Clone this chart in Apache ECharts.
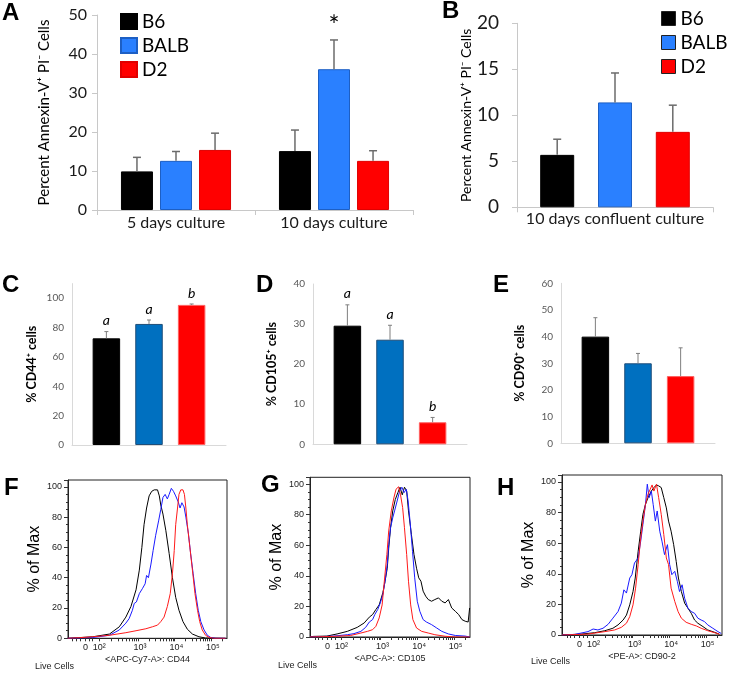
<!DOCTYPE html>
<html><head><meta charset="utf-8">
<script src="https://cdn.jsdelivr.net/npm/echarts@6/dist/echarts.min.js"></script>
<style>html,body{margin:0;padding:0;background:#fff}#c{width:729px;height:673px}</style>
</head><body><div id="c"></div>
<script>
// ---------- DATA ----------
const strains = ['B6', 'BALB', 'D2'];

// Panel A: apoptosis, two culture durations
const aCategories = ['5 days culture', '10 days culture'];
const aB6 = [9.9, 15.1];
const aB6Err = [3.6, 5.4];
const aBALB = [12.6, 36.1];
const aBALBErr = [2.4, 7.5];
const aD2 = [15.4, 12.6];
const aD2Err = [4.3, 2.6];
const aSigB6 = ['', ''];
const aSigBALB = ['', '*'];
const aSigD2 = ['', ''];

// Panel B: 10 days confluent culture
const bCategories = ['10 days confluent culture'];
const bMean = [5.7, 11.4, 8.2];
const bErr = [1.7, 3.2, 2.9];

// Panel C: % CD44+ cells
const cMean = [72.7, 82.5, 95.5];
const cErr = [4.6, 2.7, 0.6];
const cSig = ['a', 'a', 'b'];

// Panel D: % CD105+ cells
const dMean = [29.6, 26.1, 5.5];
const dErr = [5.2, 3.6, 1.2];
const dSig = ['a', 'a', 'b'];

// Panel E: % CD90+ cells
const eMean = [40.0, 30.0, 25.2];
const eErr = [7.1, 3.7, 10.6];

// Flow histograms: x in display decades (biexponential axis), y in % of Max
const flowXTickVals = [1.55, 1.93, 3.05, 4.05, 5.05];
const flowXTickLabels = ['0', '10²', '10³', '10⁴', '10⁵'];
const flowMinorMult = [2, 3, 4, 5, 6, 7, 8, 9];

const fB6 = [[1.06,0],[1.75,1],[2.21,2.8],[2.48,7.6],[2.66,14],[2.80,21],[2.94,32],[3.03,45],[3.10,60],[3.16,75],[3.23,86],[3.30,94],[3.37,97],[3.44,98],[3.48,97],[3.53,98],[3.58,94],[3.62,88],[3.68,82],[3.76,71],[3.85,56],[3.94,40],[4.03,27],[4.12,18.5],[4.23,11],[4.35,6],[4.49,2.8],[4.67,1],[4.85,0.2],[5.40,0]];
const fBALB = [[1.06,0],[1.75,0.5],[2.21,2],[2.48,5.5],[2.66,10],[2.75,13],[2.84,18.5],[2.89,23],[2.95,24],[3.03,29.5],[3.12,33],[3.19,36],[3.23,41.5],[3.28,40],[3.35,49],[3.41,58],[3.48,68],[3.56,77.5],[3.62,85],[3.68,93],[3.74,95],[3.80,92],[3.85,95],[3.91,99],[3.97,97],[4.03,94],[4.10,90],[4.15,86],[4.20,89.5],[4.26,86.7],[4.31,80],[4.38,69],[4.44,56],[4.51,42.6],[4.58,29.5],[4.65,18.5],[4.72,11],[4.81,5.5],[4.90,2],[4.99,0.6],[5.13,0],[5.40,0]];
const fD2 = [[1.06,0],[1.38,0.4],[1.75,1],[2.21,2],[2.66,3.7],[2.94,5],[3.21,6.3],[3.39,7.6],[3.53,8.7],[3.62,11],[3.71,14],[3.80,21],[3.88,29.5],[3.94,42.6],[3.99,58],[4.03,75],[4.08,86],[4.12,95],[4.17,98],[4.23,98],[4.27,95],[4.31,86],[4.35,75],[4.42,60],[4.49,45],[4.56,29.5],[4.63,18.5],[4.69,11],[4.76,5.5],[4.85,2],[4.95,0.6],[5.08,0],[5.40,0]];

const gB6 = [[1.07,0],[1.17,0.4],[1.53,0.6],[1.81,2],[2.09,3.7],[2.36,6.3],[2.55,9.2],[2.69,13],[2.78,14.7],[2.87,18],[2.96,21],[3.06,29],[3.12,36.5],[3.18,45],[3.22,58],[3.27,71.5],[3.33,82.5],[3.40,90],[3.47,94.5],[3.53,98],[3.59,93],[3.65,98],[3.71,95.6],[3.76,82.5],[3.84,67],[3.91,54],[3.98,45],[4.04,38.7],[4.10,36.5],[4.16,30],[4.23,26.7],[4.30,24.5],[4.39,23.4],[4.48,24.5],[4.58,25.6],[4.67,23.4],[4.76,22.3],[4.85,24.5],[4.94,19],[5.04,16.8],[5.13,14.7],[5.22,11.4],[5.31,10.3],[5.39,9.8],[5.42,10],[5.43,19]];
const gBALB = [[1.07,0],[1.72,0.6],[2.09,1.5],[2.27,2.2],[2.46,3.7],[2.59,6.3],[2.69,9.8],[2.78,11.4],[2.84,14.7],[2.92,18],[2.99,22.3],[3.06,27.8],[3.12,36.5],[3.18,47.5],[3.22,60.6],[3.27,71.5],[3.33,78],[3.38,82.5],[3.45,89],[3.52,95.6],[3.58,98],[3.64,94.5],[3.70,96.7],[3.75,89],[3.81,73.7],[3.87,56],[3.93,38.7],[4.00,23.4],[4.07,16.8],[4.16,11.4],[4.25,9.8],[4.39,8.1],[4.53,5.9],[4.67,3.7],[4.85,2],[5.04,1],[5.31,0.6],[5.43,0]];
const gD2 = [[1.07,0],[1.72,0.4],[2.18,1],[2.46,2.6],[2.64,3.7],[2.78,4.8],[2.87,7],[2.96,12.5],[3.04,21],[3.10,36.5],[3.17,54],[3.22,69.4],[3.29,82.5],[3.36,91],[3.42,96.7],[3.49,98.3],[3.54,93.4],[3.60,84.7],[3.65,71.5],[3.71,54],[3.76,36.5],[3.82,21],[3.88,11.4],[3.98,5.9],[4.12,3.7],[4.30,2.6],[4.48,1.5],[4.76,0.5],[5.04,0],[5.43,0]];

const hB6 = [[1.07,0],[1.60,0.6],[1.96,1.5],[2.24,2.8],[2.46,4.4],[2.60,6.6],[2.74,9.8],[2.83,13],[2.92,19.7],[3.01,28.4],[3.07,37.2],[3.15,54.7],[3.22,67.8],[3.28,78.8],[3.35,85.3],[3.42,89.7],[3.51,94],[3.58,96.3],[3.65,98],[3.71,97.4],[3.78,96.3],[3.85,89.7],[3.92,83],[3.98,74.4],[4.05,67.8],[4.12,59],[4.19,48],[4.25,37.2],[4.33,28.4],[4.42,20.8],[4.51,17.5],[4.60,14.2],[4.69,9.8],[4.78,7.7],[4.92,5.5],[5.05,3.3],[5.24,1.75],[5.37,0.5]];
const hBALB = [[1.07,0],[1.42,0.4],[1.78,2.2],[1.92,3.9],[2.05,3.3],[2.19,4.4],[2.33,7],[2.46,11],[2.60,15.3],[2.69,20.8],[2.76,29.5],[2.83,27.4],[2.92,37.2],[2.98,39.4],[3.05,47],[3.15,50.3],[3.22,61.3],[3.28,72.2],[3.35,85.3],[3.40,98.5],[3.45,89.7],[3.51,94],[3.56,85.3],[3.62,74.4],[3.67,81],[3.74,67.8],[3.80,61.3],[3.87,52.5],[3.95,59],[4.01,46],[4.07,39.4],[4.15,41.6],[4.22,35],[4.28,28.4],[4.35,32.8],[4.42,24],[4.51,17.5],[4.60,15.3],[4.69,14.2],[4.78,11],[4.87,9.8],[4.96,8.8],[5.05,6.6],[5.19,4.4],[5.33,2.2],[5.42,1]];
const hD2 = [[1.07,0],[1.78,0.6],[2.24,2.2],[2.51,3.3],[2.69,5],[2.83,7.7],[2.92,12],[3.01,19.7],[3.08,30.6],[3.15,46],[3.21,61.3],[3.28,74.4],[3.35,85.3],[3.42,92],[3.48,95.2],[3.53,98],[3.58,94],[3.65,98.5],[3.71,89.7],[3.78,78.8],[3.85,65.6],[3.92,50.3],[3.98,46],[4.05,30.6],[4.15,21.9],[4.24,15.3],[4.33,11],[4.46,8.3],[4.60,7],[4.74,5.9],[4.87,4.4],[5.05,2.8],[5.24,1.5],[5.37,0.5]];

// ---------- STYLE ----------
const colAB = ['#000000', '#2a80ff', '#ff0000'];
const borderAB = ['#000000', '#1d5fc4', '#e00000'];
const colCDE = ['#000000', '#0070c0', '#ff0000'];
const borderCDE = ['#000000', '#1f4e79', '#ff6060'];
const colFlow = ['#000000', '#1a1aff', '#ff1a1a'];
const XL = 'Lato, "DejaVu Sans", sans-serif';
const AR = '"Liberation Sans", Arial, "DejaVu Sans", sans-serif';

const chart = echarts.init(document.getElementById('c'), null, {renderer: 'canvas'});

const grids = [
  {left: 97, top: 15, width: 316, height: 195},      // A
  {left: 517, top: 23.3, width: 196, height: 184},   // B
  {left: 72, top: 283.6, width: 154, height: 161.4}, // C
  {left: 313, top: 284, width: 154, height: 160.3},  // D
  {left: 561, top: 283.3, width: 154, height: 160},  // E
  {left: 68, top: 480, width: 159, height: 158.3, show: true, borderColor: '#222', borderWidth: 1},   // F
  {left: 310, top: 477.3, width: 160, height: 159.7, show: true, borderColor: '#222', borderWidth: 1},// G
  {left: 562, top: 475, width: 160, height: 160, show: true, borderColor: '#222', borderWidth: 1}     // H
];

function errSeries(gi, means, errs, sigs, barW, gap, o) {
  const data = [], labels = [];
  means.forEach((arr, s) => arr.forEach((v, c) => {
    data.push([c, s, v, errs[s][c]]);
    labels.push(sigs ? sigs[s][c] : '');
  }));
  return {
    type: 'custom', xAxisIndex: gi, yAxisIndex: gi, z: 4, silent: true,
    encode: {x: 0, y: 2},
    data: data,
    renderItem: function (params, api) {
      const c = api.value(0), s = api.value(1), v = api.value(2), e = api.value(3);
      const p0 = api.coord([c, v]), p1 = api.coord([c, v + e]);
      const x = p0[0] + (s - 1) * barW * (1 + gap);
      const st = {stroke: o.color, lineWidth: o.lw};
      const children = [
        {type: 'line', shape: {x1: x, y1: p0[1], x2: x, y2: p1[1]}, style: st},
        {type: 'line', shape: {x1: x - o.cap / 2, y1: p1[1], x2: x + o.cap / 2, y2: p1[1]}, style: st}
      ];
      const lab = labels[params.dataIndex];
      if (lab) children.push({type: 'text', style: {text: lab, x: x, y: p1[1] - o.labGap,
        align: 'center', verticalAlign: 'middle', fontSize: o.fs, fontFamily: o.ff,
        fontStyle: o.fst || 'normal', fill: '#000'}});
      return {type: 'group', children: children};
    }
  };
}

const xAxes = [], yAxes = [], series = [];

// ---- A ----
xAxes.push({gridIndex: 0, type: 'category', data: aCategories,
  axisLine: {lineStyle: {color: '#c8c8c8'}}, axisTick: {show: true, length: 5, lineStyle: {color: '#c8c8c8'}},
  axisLabel: {fontSize: 16, fontFamily: XL, color: '#1a1a1a', margin: 5}});
yAxes.push({gridIndex: 0, type: 'value', min: 0, max: 50, interval: 10,
  name: 'Percent Annexin-V⁺ PI⁻ Cells', nameLocation: 'middle', nameGap: 45,
  nameTextStyle: {fontSize: 15, fontFamily: XL, color: '#000'},
  axisLine: {show: true, lineStyle: {color: '#c8c8c8'}}, axisTick: {show: true, length: 5, lineStyle: {color: '#c8c8c8'}},
  splitLine: {show: false},
  axisLabel: {fontSize: 16, fontFamily: XL, color: '#1a1a1a', margin: 10}});
[aB6, aBALB, aD2].forEach((arr, s) => series.push({type: 'bar', name: strains[s], xAxisIndex: 0, yAxisIndex: 0,
  data: arr, barWidth: 32, barGap: '22%', itemStyle: {color: colAB[s], borderColor: borderAB[s], borderWidth: 1}}));
series.push(errSeries(0, [aB6, aBALB, aD2], [aB6Err, aBALBErr, aD2Err], [aSigB6, aSigBALB, aSigD2], 32, 0.22,
  {color: '#6b6b6b', lw: 1.5, cap: 8, labGap: 13, fs: 26, ff: XL}));

// ---- B ----
xAxes.push({gridIndex: 1, type: 'category', data: bCategories,
  axisLine: {lineStyle: {color: '#c8c8c8'}}, axisTick: {show: true, length: 5, lineStyle: {color: '#c8c8c8'}},
  axisLabel: {fontSize: 16, fontFamily: XL, color: '#1a1a1a', margin: 4}});
yAxes.push({gridIndex: 1, type: 'value', min: 0, max: 20, interval: 5,
  name: 'Percent Annexin-V⁺ PI⁻ Cells', nameLocation: 'middle', nameGap: 42,
  nameTextStyle: {fontSize: 14, fontFamily: XL, color: '#000'},
  axisLine: {show: true, lineStyle: {color: '#c8c8c8'}}, axisTick: {show: true, length: 5, lineStyle: {color: '#c8c8c8'}},
  splitLine: {show: false},
  axisLabel: {fontSize: 19, fontFamily: XL, color: '#1a1a1a', margin: 18}});
bMean.forEach((v, s) => series.push({type: 'bar', name: strains[s], xAxisIndex: 1, yAxisIndex: 1,
  data: [v], barWidth: 34, barGap: '70%', itemStyle: {color: colAB[s], borderColor: borderAB[s], borderWidth: 1}}));
series.push(errSeries(1, bMean.map(v => [v]), bErr.map(v => [v]), null, 34, 0.70,
  {color: '#6b6b6b', lw: 1.5, cap: 8, labGap: 12, fs: 20, ff: XL}));

// ---- C, D, E ----
const cde = [
  {gi: 2, mean: cMean, err: cErr, sig: cSig, max: 110, interval: 20, name: '% CD44⁺ cells', gap: 34},
  {gi: 3, mean: dMean, err: dErr, sig: dSig, max: 40, interval: 10, name: '% CD105⁺ cells', gap: 35},
  {gi: 4, mean: eMean, err: eErr, sig: null, max: 60, interval: 10, name: '% CD90⁺ cells', gap: 35}
];
cde.forEach(p => {
  xAxes.push({gridIndex: p.gi, type: 'category', data: [''],
    axisLine: {lineStyle: {color: '#d9d9d9'}}, axisTick: {show: false}, axisLabel: {show: false}});
  yAxes.push({gridIndex: p.gi, type: 'value', min: 0, max: p.max, interval: p.interval,
    name: p.name, nameLocation: 'middle', nameGap: p.gap,
    nameTextStyle: {fontSize: 12.5, fontWeight: 'bold', fontFamily: XL, color: '#000'},
    axisLine: {show: true, lineStyle: {color: '#d9d9d9'}}, axisTick: {show: false}, splitLine: {show: false},
    axisLabel: {fontSize: 10, fontFamily: XL, color: '#595959', margin: 8, showMaxLabel: p.max % p.interval === 0}});
  p.mean.forEach((v, s) => series.push({type: 'bar', name: 'p' + p.gi + strains[s], xAxisIndex: p.gi, yAxisIndex: p.gi,
    data: [v], barWidth: 27.5, barGap: '55%', itemStyle: {color: colCDE[s], borderColor: borderCDE[s], borderWidth: 1}}));
  series.push(errSeries(p.gi, p.mean.map(v => [v]), p.err.map(v => [v]), p.sig ? p.sig.map(v => [v]) : null, 27.5, 0.55,
    {color: '#7f7f7f', lw: 1, cap: 4, labGap: 11, fs: 14, ff: XL, fst: 'italic'}));
});

// ---- F, G, H ----
const minorTicks = [];
[3, 4].forEach(k => flowMinorMult.forEach(m => minorTicks.push(k + Math.log10(m))));
flowMinorMult.forEach(m => minorTicks.push(1.93 + Math.log10(m) * 1.07));
[2, 3, 4].forEach(m => minorTicks.push(5 + Math.log10(m)));
const flowTicks = [1.2, 1.3, 1.4, 1.55, 1.65, 1.75, 1.93, 3, 4, 5].concat(minorTicks);

const flows = [
  {gi: 5, data: [fB6, fBALB, fD2], name: '<APC-Cy7-A>: CD44', ygap: 23},
  {gi: 6, data: [gB6, gBALB, gD2], name: '<APC-A>: CD105', ygap: 21},
  {gi: 7, data: [hB6, hBALB, hD2], name: '<PE-A>: CD90-2', ygap: 19}
];
flows.forEach(p => {
  xAxes.push({gridIndex: p.gi, type: 'value', min: 1.07, max: 5.44,
    name: p.name, nameLocation: 'middle', nameGap: 17,
    nameTextStyle: {fontSize: 9, fontFamily: AR, color: '#222'},
    axisLine: {show: true, onZero: false, lineStyle: {color: '#222'}},
    axisTick: {show: true, length: 3, customValues: flowTicks, lineStyle: {color: '#333'}},
    splitLine: {show: false},
    axisLabel: {fontSize: 9, fontFamily: AR, color: '#222', margin: 5, customValues: flowXTickVals,
      formatter: v => { const i = flowXTickVals.findIndex(t => Math.abs(t - v) < 1e-6); return i >= 0 ? flowXTickLabels[i] : ''; }}});
  yAxes.push({gridIndex: p.gi, type: 'value', min: 0, max: 104.5, interval: 20,
    name: '% of Max', nameLocation: 'middle', nameGap: p.ygap,
    nameTextStyle: {fontSize: 16, fontFamily: AR, color: '#000'},
    axisLine: {show: true, lineStyle: {color: '#222'}},
    axisTick: {show: true, length: 4, lineStyle: {color: '#333'}},
    minorTick: {show: true, splitNumber: 4, length: 2, lineStyle: {color: '#333'}},
    splitLine: {show: false},
    axisLabel: {fontSize: 9, fontFamily: AR, color: '#222', margin: 6, showMaxLabel: false}});
  p.data.forEach((d, s) => series.push({type: 'line', name: 'flow' + p.gi + strains[s],
    xAxisIndex: p.gi, yAxisIndex: p.gi, data: d, showSymbol: false, symbol: 'none', silent: true,
    lineStyle: {color: colFlow[s], width: 1}, itemStyle: {color: colFlow[s]}, z: 3 + s}));
});

// ---------- annotations ----------
const letters = [
  ['A', 2, 13.5], ['B', 442, 11.5], ['C', 2, 285], ['D', 256, 285], ['E', 493, 285.5],
  ['F', 4, 488], ['G', 261, 485.5], ['H', 497, 488]
];
const graphic = letters.map(l => ({type: 'text', left: l[1], top: l[2] - 12,
  style: {text: l[0], fontSize: 24, fontWeight: 'bold', fontFamily: AR, fill: '#000'}}));
[[35, 662], [278, 661], [531, 657]].forEach(p => graphic.push({type: 'text', left: p[0], top: p[1],
  style: {text: 'Live Cells', fontSize: 9, fontFamily: AR, fill: '#222'}}));

chart.setOption({
  animation: false,
  backgroundColor: '#fff',
  grid: grids,
  xAxis: xAxes,
  yAxis: yAxes,
  legend: [
    {data: strains, orient: 'vertical', left: 115, top: 7, itemWidth: 16, itemHeight: 15, itemGap: 5,
      icon: 'rect', selectedMode: false, textStyle: {fontSize: 19, fontFamily: XL, color: '#000'}},
    {data: strains, orient: 'vertical', left: 656, top: 4, itemWidth: 14, itemHeight: 14, itemGap: 5,
      icon: 'rect', selectedMode: false, itemStyle: {borderColor: '#222', borderWidth: 1},
      textStyle: {fontSize: 19, fontFamily: XL, color: '#000'}}
  ],
  graphic: graphic,
  series: series
});
</script></body></html>
